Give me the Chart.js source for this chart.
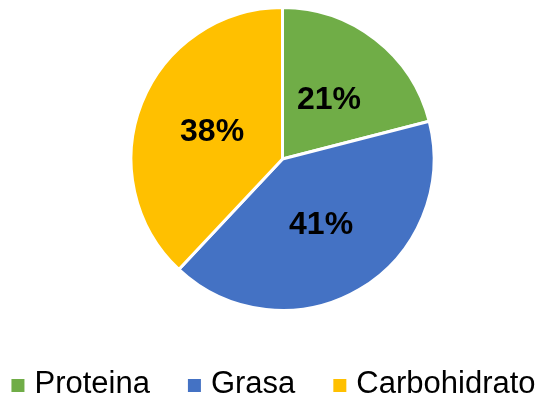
<!DOCTYPE html>
<html>
<head>
<meta charset="utf-8">
<script src="https://cdn.jsdelivr.net/npm/chart.js@4/dist/chart.umd.min.js"></script>
<style>
  html, body { margin: 0; padding: 0; background: #fff; }
  #wrap { width: 543px; height: 402px; }
</style>
</head>
<body>
<div id="wrap"><canvas id="pie"></canvas></div>
<script>
var labels = ["Proteina", "Grasa", "Carbohidrato"];
var values = [21, 41, 38];
var colors = ["#70AD47", "#4472C4", "#FFC000"];

var FONT = '"Liberation Sans", Arial, sans-serif';

// percent labels in the middle of each slice
var sliceLabels = {
    id: 'sliceLabels',
    afterDatasetsDraw: function(chart){
        var ctx = chart.ctx;
        var meta = chart.getDatasetMeta(0);
        var total = values.reduce(function(a, b){ return a + b; }, 0);
        ctx.save();
        ctx.font = 'bold 32px ' + FONT;
        ctx.fillStyle = '#000';
        ctx.textAlign = 'center';
        ctx.textBaseline = 'middle';
        meta.data.forEach(function(arc, i){
            var p = arc.tooltipPosition();
            ctx.fillText(Math.round(values[i] / total * 100) + '%', p.x, p.y + 1);
        });
        ctx.restore();
    }
};

// legend row under the pie, spaced like the original
var bottomLegend = {
    id: 'bottomLegend',
    afterDraw: function(chart){
        var ctx = chart.ctx;
        var box = 13, boxGap = 10, itemGap = 38;
        var baseline = 393;
        ctx.save();
        ctx.font = '31px ' + FONT;
        ctx.textBaseline = 'alphabetic';
        ctx.textAlign = 'left';
        var widths = labels.map(function(l){ return ctx.measureText(l).width; });
        var total = 0;
        widths.forEach(function(w, i){
            total += box + boxGap + w + (i < widths.length - 1 ? itemGap : 0);
        });
        var x = 273.5 - total / 2;
        labels.forEach(function(l, i){
            ctx.fillStyle = colors[i];
            ctx.fillRect(x, baseline - 14, box, box);
            x += box + boxGap;
            ctx.fillStyle = '#000';
            ctx.fillText(l, x, baseline);
            x += widths[i] + itemGap;
        });
        ctx.restore();
    }
};

new Chart(document.getElementById('pie').getContext('2d'), {
    type: 'pie',
    data: {
        labels: labels,
        datasets: [{
            data: values,
            backgroundColor: colors,
            borderColor: '#fff',
            borderWidth: 3
        }]
    },
    options: {
        responsive: true,
        maintainAspectRatio: false,
        animation: false,
        layout: {
            padding: { top: 6, left: 22, right: 0, bottom: 90 }
        },
        plugins: {
            tooltip: { enabled: false },
            legend: { display: false }
        }
    },
    plugins: [sliceLabels, bottomLegend]
});
</script>
</body>
</html>
